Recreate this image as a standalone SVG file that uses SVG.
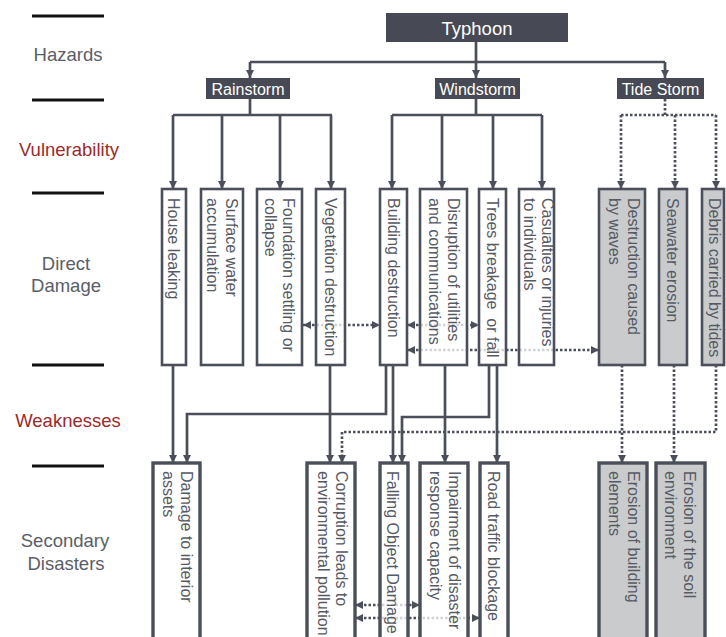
<svg xmlns="http://www.w3.org/2000/svg" width="726" height="637" viewBox="0 0 726 637">
  <defs>
    <marker id="ah" markerUnits="userSpaceOnUse" markerWidth="8" markerHeight="8" viewBox="0 0 8 8" refX="8" refY="4" orient="auto-start-reverse">
      <path d="M0,0 L8,4 L0,8 z" fill="#4b4f59"/>
    </marker>
    <style>
      .ln { fill: none; stroke: #4b4f59; stroke-width: 2.7; }
      .dot { stroke-dasharray: 2.5 2; }
      .rule { stroke: #111; stroke-width: 3; }
      .box { fill: #fff; fill-opacity: 0.75; stroke: #4b4f59; stroke-width: 2.6; }
      .box2 { fill: #fff; fill-opacity: 0.75; stroke: #4b4f59; stroke-width: 3.4; }
      .grey { fill: #cacbcd; fill-opacity: 1; }
      .hz { fill: #474a54; }
      .t { font-family: "Liberation Sans", Arial, sans-serif; font-size: 16px; fill: #565a64; }
      .ht { font-family: "Liberation Sans", Arial, sans-serif; font-size: 16px; fill: #fff; text-anchor: middle; }
      .lbl { font-family: "Liberation Sans", Arial, sans-serif; font-size: 18.5px; fill: #5a5e68; text-anchor: middle; }
      .red { fill: #9b2b2b; }
    </style>
  </defs>

  <rect width="726" height="637" fill="#fff"/>

  <!-- level rules and labels -->
  <g id="levels">
    <path class="rule" d="M32 16H104M32 100H104M32 193H104M32 365H104M32 466H104"/>
    <text class="lbl" x="68" y="61">Hazards</text>
    <text class="lbl red" x="69" y="156">Vulnerability</text>
    <text class="lbl" x="66" y="270">Direct</text>
    <text class="lbl" x="66" y="292">Damage</text>
    <text class="lbl red" x="68" y="427">Weaknesses</text>
    <text class="lbl" x="65" y="547">Secondary</text>
    <text class="lbl" x="66" y="570">Disasters</text>
  </g>

  <!-- connectors -->
  <g id="connectors">
    <!-- typhoon to hazards -->
    <path class="ln" d="M476 42V62M250 62H665"/>
    <path class="ln" d="M250 62V78" marker-end="url(#ah)"/>
    <path class="ln" d="M476 62V78" marker-end="url(#ah)"/>
    <path class="ln" d="M665 62V78" marker-end="url(#ah)"/>

    <!-- rainstorm branches -->
    <path class="ln" d="M250 99V115M173 115H332"/>
    <path class="ln" d="M173 115V189" marker-end="url(#ah)"/>
    <path class="ln" d="M222 115V189" marker-end="url(#ah)"/>
    <path class="ln" d="M280 115V189" marker-end="url(#ah)"/>
    <path class="ln" d="M331 115V189" marker-end="url(#ah)"/>

    <!-- windstorm branches -->
    <path class="ln" d="M476 99V115M392 115H542"/>
    <path class="ln" d="M392 115V189" marker-end="url(#ah)"/>
    <path class="ln" d="M442 115V189" marker-end="url(#ah)"/>
    <path class="ln" d="M493 115V189" marker-end="url(#ah)"/>
    <path class="ln" d="M542 115V189" marker-end="url(#ah)"/>

    <!-- tide storm branches (dotted) -->
    <path class="ln dot" d="M665 99V115M621 115H716"/>
    <path class="ln dot" d="M621 115V189" marker-end="url(#ah)"/>
    <path class="ln dot" d="M675 115V189" marker-end="url(#ah)"/>
    <path class="ln dot" d="M716 115V189" marker-end="url(#ah)"/>

    <!-- links inside the direct damage row -->
    <path class="ln dot" d="M303 325H380" marker-start="url(#ah)" marker-end="url(#ah)"/>
    <path class="ln dot" d="M407 325H479" marker-start="url(#ah)" marker-end="url(#ah)"/>
    <path class="ln dot" d="M407 350H599" marker-start="url(#ah)" marker-end="url(#ah)"/>

    <!-- direct damage to secondary disasters -->
    <path class="ln" d="M173 365V463" marker-end="url(#ah)"/>
    <path class="ln" d="M386 365V414H187V463" marker-end="url(#ah)"/>
    <path class="ln" d="M330 365V463" marker-end="url(#ah)"/>
    <path class="ln" d="M393 365V463" marker-end="url(#ah)"/>
    <path class="ln" d="M489 365V417H402V463" marker-end="url(#ah)"/>
    <path class="ln" d="M445 365V463" marker-end="url(#ah)"/>
    <path class="ln" d="M497 365V463" marker-end="url(#ah)"/>
    <path class="ln dot" d="M716 365V432H342V463" marker-end="url(#ah)"/>
    <path class="ln dot" d="M622 365V463" marker-end="url(#ah)"/>
    <path class="ln dot" d="M674 365V463" marker-end="url(#ah)"/>

    <!-- links inside the secondary row -->
    <path class="ln dot" d="M355 605H420" marker-start="url(#ah)" marker-end="url(#ah)"/>
    <path class="ln dot" d="M355 618H480" marker-start="url(#ah)" marker-end="url(#ah)"/>
  </g>

  <!-- hazards -->
  <g id="typhoon">
    <rect class="hz" x="386" y="13" width="182" height="29"/>
    <text class="ht" x="477" y="34.5" style="font-size:18.5px">Typhoon</text>
  </g>
  <g id="rainstorm">
    <rect class="hz" x="206" y="78" width="84" height="21"/>
    <text class="ht" x="248" y="94.5">Rainstorm</text>
  </g>
  <g id="windstorm">
    <rect class="hz" x="435" y="78" width="85" height="21"/>
    <text class="ht" x="477.5" y="94.5">Windstorm</text>
  </g>
  <g id="tidestorm">
    <rect class="hz" x="617" y="78" width="87" height="21"/>
    <text class="ht" x="660.5" y="94.5">Tide Storm</text>
  </g>

  <!-- direct damage -->
  <g id="house-leaking">
    <rect class="box" x="162" y="189" width="24" height="176"/>
    <text class="t" transform="translate(168,198) rotate(90)">House leaking</text>
  </g>
  <g id="surface-water">
    <rect class="box" x="201" y="189" width="42" height="176"/>
    <text class="t" transform="translate(226,198) rotate(90)">Surface water</text>
    <text class="t" transform="translate(207,198) rotate(90)">accumulation</text>
  </g>
  <g id="foundation">
    <rect class="box" x="257" y="189" width="45" height="176"/>
    <text class="t" transform="translate(283,198) rotate(90)">Foundation settling or</text>
    <text class="t" transform="translate(264.5,198) rotate(90)">collapse</text>
  </g>
  <g id="vegetation">
    <rect class="box" x="316" y="189" width="29" height="176"/>
    <text class="t" transform="translate(325,198) rotate(90)">Vegetation destruction</text>
  </g>
  <g id="building-destruction">
    <rect class="box" x="380" y="189" width="27" height="176"/>
    <text class="t" transform="translate(387.5,198) rotate(90)">Building destruction</text>
  </g>
  <g id="disruption">
    <rect class="box" x="420" y="189" width="47" height="176"/>
    <text class="t" transform="translate(448,198) rotate(90)">Disruption of utilities</text>
    <text class="t" transform="translate(429,198) rotate(90)">and communications</text>
  </g>
  <g id="trees">
    <rect class="box" x="479" y="189" width="27" height="176"/>
    <text class="t" transform="translate(487,198) rotate(90)" xml:space="preserve">Trees breakage  or fall</text>
  </g>
  <g id="casualties">
    <rect class="box" x="519" y="189" width="35" height="176"/>
    <text class="t" transform="translate(542,198) rotate(90)">Casualties or injuries</text>
    <text class="t" transform="translate(524,198) rotate(90)">to individuals</text>
  </g>
  <g id="waves">
    <rect class="box grey" x="599" y="189" width="46" height="176"/>
    <text class="t" transform="translate(628,198) rotate(90)">Destruction caused</text>
    <text class="t" transform="translate(609,198) rotate(90)">by waves</text>
  </g>
  <g id="seawater">
    <rect class="box grey" x="659" y="189" width="28" height="176"/>
    <text class="t" transform="translate(666.5,198) rotate(90)">Seawater erosion</text>
  </g>
  <g id="debris">
    <rect class="box grey" x="702" y="189" width="22" height="176"/>
    <text class="t" transform="translate(709,198) rotate(90)">Debris carried by tides</text>
  </g>

  <!-- secondary disasters -->
  <g id="interior-assets">
    <rect class="box2" x="153" y="463" width="47" height="190"/>
    <text class="t" transform="translate(181,471) rotate(90)">Damage to interior</text>
    <text class="t" transform="translate(163,471) rotate(90)">assets</text>
  </g>
  <g id="pollution">
    <rect class="box2" x="307" y="463" width="48" height="190"/>
    <text class="t" transform="translate(336,471) rotate(90)">Corruption leads to</text>
    <text class="t" transform="translate(318,471) rotate(90)">environmental pollution</text>
  </g>
  <g id="falling-object">
    <rect class="box2" x="380" y="463" width="28" height="190"/>
    <text class="t" transform="translate(386.5,471) rotate(90)">Falling Object Damage</text>
  </g>
  <g id="response-capacity">
    <rect class="box2" x="420" y="463" width="48" height="190"/>
    <text class="t" transform="translate(449,471) rotate(90)">Impairment of disaster</text>
    <text class="t" transform="translate(430,471) rotate(90)">response capacity</text>
  </g>
  <g id="road-traffic">
    <rect class="box2" x="480" y="463" width="28" height="190"/>
    <text class="t" transform="translate(488,471) rotate(90)">Road traffic blockage</text>
  </g>
  <g id="building-elements">
    <rect class="box2 grey" x="599" y="463" width="48" height="190"/>
    <text class="t" transform="translate(628,471) rotate(90)">Erosion of building</text>
    <text class="t" transform="translate(609,471) rotate(90)">elements</text>
  </g>
  <g id="soil">
    <rect class="box2 grey" x="656" y="463" width="49" height="190"/>
    <text class="t" transform="translate(684,471) rotate(90)">Erosion of the soil</text>
    <text class="t" transform="translate(665,471) rotate(90)">environment</text>
  </g>
</svg>
